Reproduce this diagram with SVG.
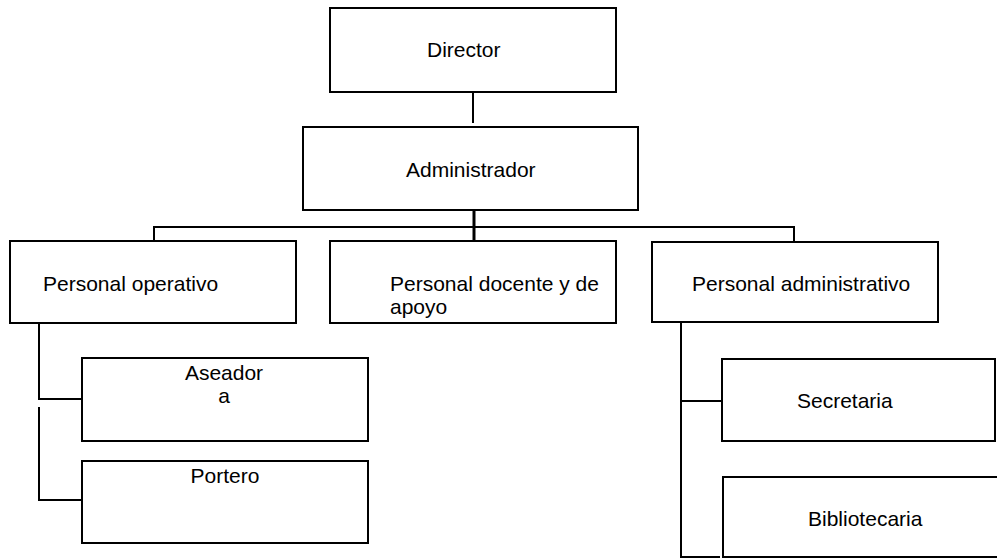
<svg xmlns="http://www.w3.org/2000/svg" width="997" height="559" viewBox="0 0 997 559">
<style>
.box{fill:#fff;stroke:#000;stroke-width:2}
.ln{fill:none;stroke:#000;stroke-width:2}
text{font-family:"Liberation Sans",Arial,sans-serif;font-size:21px;fill:#000}
.c{text-anchor:middle}
</style>
<rect width="997" height="559" fill="#fff"/>
<g id="connectors">
<line class="ln" x1="473" y1="90" x2="473" y2="123"/>
<line class="ln" x1="474" y1="210" x2="474" y2="243" style="stroke-width:3"/>
<polyline class="ln" points="154,243 154,227 794,227 794,243"/>
<polyline class="ln" points="39,323 39,399 82,399"/>
<polyline class="ln" points="39,407 39,500 84,500"/>
<polyline class="ln" points="681,322 681,557 720,557"/>
<line class="ln" x1="681" y1="401" x2="722" y2="401"/>
</g>
<g id="director"><rect class="box" x="330" y="8" width="286" height="84"/><text x="427" y="57">Director</text></g>
<g id="administrador"><rect class="box" x="303" y="127" width="335" height="83"/><text x="406" y="177">Administrador</text></g>
<g id="personal-operativo"><rect class="box" x="10" y="241" width="286" height="82"/><text x="43" y="291">Personal operativo</text></g>
<g id="personal-docente"><rect class="box" x="330" y="241" width="286" height="82"/><text x="390" y="291">Personal docente y de</text><text x="390" y="314">apoyo</text></g>
<g id="personal-administrativo"><rect class="box" x="652" y="242" width="286" height="80"/><text x="692" y="291">Personal administrativo</text></g>
<g id="aseadora"><rect class="box" x="82" y="358" width="286" height="83"/><text class="c" x="224" y="380">Aseador</text><text class="c" x="224" y="403">a</text></g>
<g id="portero"><rect class="box" x="82" y="461" width="286" height="82"/><text class="c" x="225" y="483">Portero</text></g>
<g id="secretaria"><rect class="box" x="722" y="359" width="273" height="82"/><text x="797" y="408">Secretaria</text></g>
<g id="bibliotecaria"><rect class="box" x="723" y="477" width="290" height="80"/><text x="808" y="526">Bibliotecaria</text></g>
</svg>
